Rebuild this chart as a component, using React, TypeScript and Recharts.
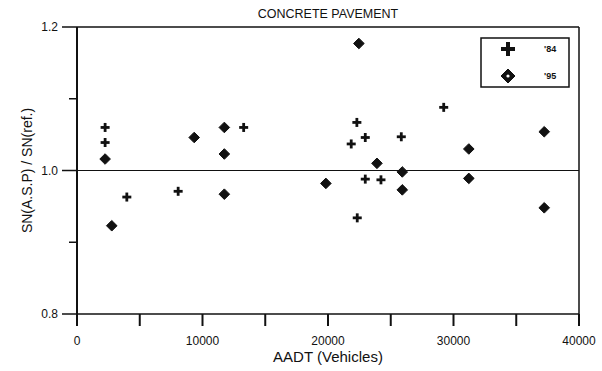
import { ScatterChart, Scatter, XAxis, YAxis, ReferenceLine } from 'recharts';

const aadt84 = [2240, 2240, 3970, 8060, 13280, 21850, 22300, 22330, 22970, 22970, 24220, 25840, 29220];
const sn84 = [1.06, 1.039, 0.963, 0.971, 1.06, 1.037, 1.067, 0.934, 1.046, 0.988, 0.987, 1.047, 1.088];

const aadt95 = [2240, 2770, 9340, 11740, 11740, 11740, 19830, 22460, 23900, 25920, 25920, 31220, 31220, 37230, 37230];
const sn95 = [1.016, 0.923, 1.046, 1.06, 1.023, 0.967, 0.982, 1.177, 1.01, 0.998, 0.973, 1.03, 0.989, 1.054, 0.948];

const xTicks = [0, 5000, 10000, 15000, 20000, 25000, 30000, 35000, 40000];
const yTicks = [0.8, 0.9, 1.0, 1.1, 1.2];
const legendNames = ["'84", "'95"];

const data84 = aadt84.map((x, i) => ({ x, y: sn84[i] }));
const data95 = aadt95.map((x, i) => ({ x, y: sn95[i] }));

const INK = '#111';
const FONT = '"Liberation Sans", Arial, sans-serif';

const Plus = (props: any) => {
  const { cx, cy } = props;
  const s = 4.5;
  return (
    <g stroke={INK} strokeWidth={2.8}>
      <line x1={cx - s} y1={cy} x2={cx + s} y2={cy} />
      <line x1={cx} y1={cy - s} x2={cx} y2={cy + s} />
    </g>
  );
};

const Diamond = (props: any) => {
  const { cx, cy } = props;
  const s = 5.3;
  return (
    <path
      d={`M${cx},${cy - s}L${cx + s},${cy}L${cx},${cy + s}L${cx - s},${cy}Z`}
      fill={INK}
      stroke={INK}
      strokeWidth={1}
      strokeLinejoin="round"
    />
  );
};

const XTick = (props: any) => {
  const { x, y, payload } = props;
  const v = payload.value;
  return (
    <g>
      <line x1={x} y1={y} x2={x} y2={y + 12} stroke={INK} strokeWidth={2} />
      {v % 10000 === 0 && (
        <text x={x} y={y + 31} textAnchor="middle" fontSize={12} fill={INK} fontFamily={FONT}>
          {v}
        </text>
      )}
    </g>
  );
};

const YTick = (props: any) => {
  const { x, y, payload } = props;
  const v = payload.value;
  const major = Math.abs(v * 10 - Math.round(v * 5) * 2) < 0.01;
  return (
    <g>
      <line x1={x - (major ? 15 : 8)} y1={y} x2={x} y2={y} stroke={INK} strokeWidth={1.5} />
      {major && (
        <text x={x - 19} y={y + 4} textAnchor="end" fontSize={12} fill={INK} fontFamily={FONT}>
          {v.toFixed(1)}
        </text>
      )}
    </g>
  );
};

// legend box drawn inside the chart svg (top-right of plot)
const LegendBox = () => (
  <g transform="translate(481,38)">
    <rect x={0} y={0} width={88} height={49} fill="#fff" stroke={INK} strokeWidth={1.5} />
    <g stroke={INK} strokeWidth={4}>
      <line x1={20} y1={11} x2={34} y2={11} />
      <line x1={27} y1={4} x2={27} y2={18} />
    </g>
    <path d="M27,31L34,38L27,45L20,38Z" fill={INK} stroke={INK} strokeLinejoin="round" />
    <circle cx={27} cy={38} r={1.6} fill="#fff" />
    <text x={63} y={14} fontSize={9} fontWeight="bold" fill={INK} fontFamily={FONT}>{legendNames[0]}</text>
    <text x={63} y={41} fontSize={9} fontWeight="bold" fill={INK} fontFamily={FONT}>{legendNames[1]}</text>
  </g>
);

export default function App() {
  return (
    <div style={{ position: 'absolute', left: 0, top: 0, width: 602, height: 371, background: '#fff' }}>
      <ScatterChart width={602} height={371} margin={{ top: 27, right: 23, bottom: 0, left: 0 }}>
        <text x={328} y={18} textAnchor="middle" fontSize={12.5} fill={INK} fontFamily={FONT}>
          CONCRETE PAVEMENT
        </text>
        <XAxis
          type="number"
          dataKey="x"
          domain={[0, 40000]}
          ticks={xTicks}
          interval={0}
          height={57}
          tickSize={0}
          tickMargin={0}
          tickLine={false}
          axisLine={{ stroke: INK, strokeWidth: 1.5 }}
          tick={<XTick />}
          label={{
            value: 'AADT (Vehicles)',
            position: 'insideBottom',
            offset: 9,
            style: { fontSize: 15, fill: INK, fontFamily: FONT },
          }}
        />
        <YAxis
          type="number"
          dataKey="y"
          domain={[0.8, 1.2]}
          ticks={yTicks}
          interval={0}
          width={77}
          tickSize={0}
          tickMargin={0}
          tickLine={false}
          axisLine={{ stroke: INK, strokeWidth: 2 }}
          tick={<YTick />}
          label={{
            value: 'SN(A.S.P) / SN(ref.)',
            angle: -90,
            position: 'insideLeft',
            offset: 27,
            style: { fontSize: 14, fill: INK, fontFamily: FONT, textAnchor: 'middle' },
          }}
        />
        <ReferenceLine y={1.2} stroke={INK} strokeWidth={1.5} />
        <ReferenceLine x={40000} stroke={INK} strokeWidth={1.5} />
        <ReferenceLine y={1.0} stroke={INK} strokeWidth={1.2} />
        <LegendBox />
        <Scatter name={legendNames[0]} data={data84} shape={<Plus />} isAnimationActive={false} />
        <Scatter name={legendNames[1]} data={data95} shape={<Diamond />} isAnimationActive={false} />
      </ScatterChart>
    </div>
  );
}
